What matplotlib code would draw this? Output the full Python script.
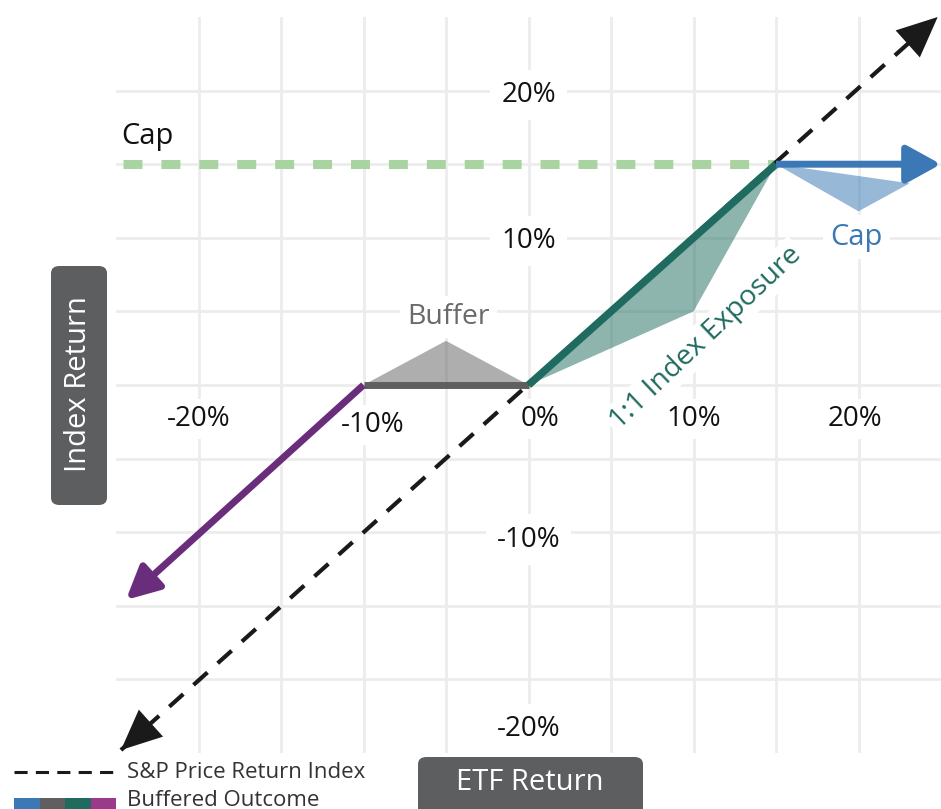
import matplotlib
matplotlib.use("Agg")
import matplotlib.pyplot as plt
from matplotlib.patches import FancyBboxPatch, Rectangle
from matplotlib.lines import Line2D

plt.rcParams['font.family'] = ['Open Sans', 'DejaVu Sans']

# valores (em %)
grid_ticks = [-20, -15, -10, -5, 0, 5, 10, 15, 20]
x_tick_vals = [-20, -10, 0, 10, 20]
x_tick_labels = ["-20%", "-10%", "0%", "10%", "20%"]
y_tick_vals = [20, 10, -10, -20]
y_tick_labels = ["20%", "10%", "-10%", "-20%"]

cap_level = 15
sp_x = [-24.7, 24.8]
sp_y = [-24.8, 25.0]
down_x = [-10, -24.4]
down_y = [0, -14.6]
buffer_x = [-10, 0]
buffer_y = [0, 0]
buffer_tri_x = [-10, -5, 0]
buffer_tri_y = [0, 3.0, 0]
up_x = [0, 15]
up_y = [0, 15]
up_fill_x = [0, 15, 10]
up_fill_y = [0, 15, 5]
capped_x = [15, 25]
capped_y = [15, 15]
cap_fill_x = [15, 20, 23.1]
cap_fill_y = [15, 11.8, 13.7]

legend_labels = ["S&P Price Return Index", "Buffered Outcome"]
outcome_colors = ["#3b78b5", "#5f5f5f", "#1f6b5f", "#9b3a88"]

azul = "#3b78b5"
cinza = "#5f5f5f"
verde = "#1f6b5f"
roxo = "#6a2d7b"
preto = "#1a1a1a"

fig = plt.figure(figsize=(9.41, 8.09), dpi=100)
ax = fig.add_axes([116 / 941, 56 / 809, 825 / 941, 736 / 809])
ax.set_xlim(-25, 25)
ax.set_ylim(-25, 25)
ax.set_xticks(grid_ticks)
ax.set_yticks(grid_ticks)
ax.grid(color="#ececec", lw=2, zorder=0)
ax.set_axisbelow(True)
ax.tick_params(length=0, labelbottom=False, labelleft=False)
for s in ax.spines.values():
    s.set_visible(False)

caixa_branca = dict(boxstyle="square,pad=0.22", fc="white", ec="none")

# rotulos dos eixos (desenhados dentro do grafico)
x_nudge = [(0, 0), (0.55, -0.4), (0.7, 0), (0, 0), (-0.2, 0)]
for v, lab, (dx, dy) in zip(x_tick_vals, x_tick_labels, x_nudge):
    ax.text(v + dx, -2.3 + dy, lab, ha="center", va="center", fontsize=20,
            color="#111111", bbox=caixa_branca, zorder=2)
y_nudge = [-0.3, -0.2, -0.5, -3.4]
for v, lab, dy in zip(y_tick_vals, y_tick_labels, y_nudge):
    ax.text(0, v + dy, lab, ha="center", va="center", fontsize=20,
            color="#111111", bbox=dict(boxstyle="square,pad=0.4", fc="white", ec="none"),
            zorder=2)

# linha do cap
ax.plot([-24.6, cap_level], [cap_level, cap_level], color="#a9d3a0",
        lw=6.5, linestyle=(0, (2.1, 2.1)), zorder=3)
ax.text(-24.7, 16.9, "Cap", ha="left", va="center", fontsize=21, color="#111111", zorder=4)

# indice S&P (tracejado com setas), fica por baixo das linhas do resultado
ax.plot(sp_x, sp_y, color=preto, lw=3, linestyle=(0, (4.5, 3.3)), zorder=4)
for i, j in [(1, 0), (0, 1)]:
    base = (sp_x[j] + (sp_x[i] - sp_x[j]) * 0.06, sp_y[j] + (sp_y[i] - sp_y[j]) * 0.06)
    ax.annotate("", xy=(sp_x[j], sp_y[j]), xytext=base, annotation_clip=False,
                arrowprops=dict(arrowstyle="-|>,head_length=1.0,head_width=0.45",
                                mutation_scale=29, lw=0, color=preto,
                                shrinkA=0, shrinkB=0), zorder=7)

# buffer
ax.fill(buffer_tri_x, buffer_tri_y, color=cinza, alpha=0.5, lw=0, zorder=3)
ax.plot(buffer_x, buffer_y, color=cinza, lw=5, solid_capstyle="butt", zorder=5)
ax.text(-4.85, 4.6, "Buffer", ha="center", va="center", fontsize=20.5,
        color="#6a6a6a", bbox=dict(boxstyle="square,pad=0.25", fc="white", ec="none"), zorder=2)

# perda abaixo do buffer
ax.annotate("", xy=(down_x[1], down_y[1]), xytext=(down_x[0], down_y[0]),
            arrowprops=dict(arrowstyle="-|>,head_length=1.0,head_width=0.5",
                            mutation_scale=20, lw=5, color=roxo,
                            shrinkA=0, shrinkB=0, capstyle="butt"), zorder=5)

# exposicao 1:1
ax.fill(up_fill_x, up_fill_y, color=verde, alpha=0.5, lw=0, zorder=3)
ax.plot(up_x, up_y, color=verde, lw=5.5, solid_capstyle="butt", zorder=5)
ax.text(10.75, 3.2, "1:1 Index Exposure", rotation=43.5, rotation_mode="anchor",
        ha="center", va="center", fontsize=20.5, color=verde,
        bbox=dict(boxstyle="square,pad=0.12", fc="white", ec="none"), zorder=2)

# acima do cap
ax.fill(cap_fill_x, cap_fill_y, color=azul, alpha=0.52, lw=0, zorder=3)
ax.annotate("", xy=(capped_x[1], capped_y[1]), xytext=(capped_x[0], capped_y[0]),
            annotation_clip=False,
            arrowprops=dict(arrowstyle="-|>,head_length=1.0,head_width=0.55",
                            mutation_scale=21, lw=5, color=azul,
                            shrinkA=0, shrinkB=0, capstyle="butt"), zorder=5)
ax.text(19.9, 10.05, "Cap", ha="center", va="center", fontsize=21, color=azul,
        bbox=dict(boxstyle="square,pad=0.25", fc="white", ec="none"), zorder=2)

# caixas dos titulos dos eixos
fig.patches.append(FancyBboxPatch((51 / 941, 1 - 505 / 809), 56 / 941, 239 / 809,
                                  boxstyle="round,pad=0,rounding_size=0.009",
                                  transform=fig.transFigure, fc="#5d5e60", ec="none"))
fig.text(79 / 941, 1 - 384 / 809, "Index Return", rotation=90, ha="center", va="center",
         fontsize=21, color="white")
fig.patches.append(FancyBboxPatch((418 / 941, -0.03), 225 / 941, 52 / 809 + 0.03,
                                  boxstyle="round,pad=0,rounding_size=0.009",
                                  transform=fig.transFigure, fc="#5d5e60", ec="none"))
fig.text(530 / 941, 1 - 783 / 809, "ETF Return", ha="center", va="center",
         fontsize=21, color="white")

# legenda
fig.lines.append(Line2D([14 / 941, 115 / 941], [1 - 772 / 809] * 2, transform=fig.transFigure,
                        color=preto, lw=2.2, linestyle=(0, (4.3, 2.7))))
larg = 102 / 941 / len(outcome_colors)
for k, c in enumerate(outcome_colors):
    fig.patches.append(Rectangle((14 / 941 + k * larg, 0), larg, 11 / 809,
                                 transform=fig.transFigure, fc=c, ec="none"))
fig.text(127 / 941, 1 - 772 / 809, legend_labels[0], ha="left", va="center",
         fontsize=16, color="#333333")
fig.text(127 / 941, 1 - 800 / 809, legend_labels[1], ha="left", va="center",
         fontsize=16, color="#333333")

fig.savefig("out.png", dpi=100)
